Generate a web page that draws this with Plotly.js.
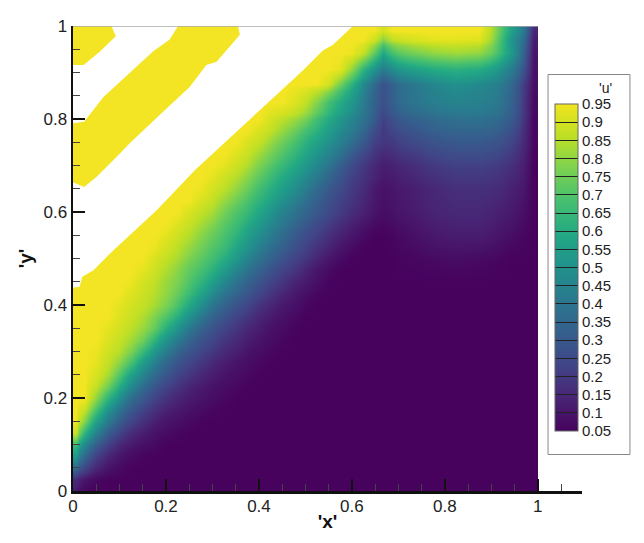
<!DOCTYPE html>
<html><head><meta charset="utf-8">
<script src="https://cdn.plot.ly/plotly-3.0.1.min.js"></script>
<style>html,body{margin:0;padding:0;background:#fff}</style></head>
<body><div id="chart" style="width:644px;height:543px"></div>
<script>
// cell edges of the u grid
const xEdges = [0,.0125,.0375,.0625,.0875,.1125,.1375,.1625,.1875,.2125,.2375,.2625,.2875,.3125,.3375,.3625,.3875,.4125,.4375,.4625,.4875,.5125,.5375,.5625,.5875,.6125,.6375,.6575,.6765,.7,.75,.8,.85,.9,.93,.96,.98,1];
const yEdges = [0,.0125,.0375,.0625,.0875,.1125,.1375,.1625,.1875,.2125,.2375,.2625,.2875,.3125,.3375,.3625,.3875,.4125,.4375,.4625,.4875,.5125,.5375,.5625,.5875,.6125,.6375,.6625,.6875,.7125,.7375,.7625,.7875,.8125,.86,.89,.925,.96,.98,1];
// u per row, bottom row first; one value per x cell
const uRows = [
[.12,.07,.05,.05,.05, .05,.05,.05,.05,.05, .05,.05,.05,.05,.05, .05,.05,.05,.05,.05, .05,.05,.05,.05,.05, .05,.05,.05,.05, .05,.05,.05,.05, .05,.05,.05,.05],
[.155,.10,.065,.05,.05, .05,.05,.05,.05,.05, .05,.05,.05,.05,.05, .05,.05,.05,.05,.05, .05,.05,.05,.05,.05, .05,.05,.05,.05, .05,.05,.05,.05, .05,.05,.05,.05],
[.36,.235,.145,.095,.07, .05,.05,.05,.05,.05, .05,.05,.05,.05,.05, .05,.05,.05,.05,.05, .05,.05,.05,.05,.05, .05,.05,.05,.05, .05,.05,.05,.05, .05,.05,.05,.05],
[.53,.35,.22,.145,.10, .075,.055,.05,.05,.05, .05,.05,.05,.05,.05, .05,.05,.05,.05,.05, .05,.05,.05,.05,.05, .05,.05,.05,.05, .05,.05,.05,.05, .05,.05,.05,.05],
[.66,.47,.32,.22,.15, .11,.087,.07,.05,.05, .05,.05,.05,.05,.05, .05,.05,.05,.05,.05, .05,.05,.05,.05,.05, .05,.05,.05,.05, .05,.05,.05,.05, .05,.05,.05,.05],
[.88,.63,.44,.31,.225, .16,.122,.09,.077,.06, .05,.05,.05,.05,.05, .05,.05,.05,.05,.05, .05,.05,.05,.05,.05, .05,.05,.05,.05, .05,.05,.05,.05, .05,.05,.05,.05],
[.95,.785,.565,.42,.31, .235,.175,.13,.10,.085, .07,.055,.05,.05,.05, .05,.05,.05,.05,.05, .05,.05,.05,.05,.05, .05,.05,.05,.05, .05,.05,.05,.05, .05,.05,.05,.05],
[.95,.88,.69,.51,.39, .30,.23,.175,.135,.11, .09,.075,.06,.05,.05, .05,.05,.05,.05,.05, .05,.05,.05,.05,.05, .05,.05,.05,.05, .05,.05,.05,.05, .05,.05,.05,.05],
[.95,.95,.80,.63,.49, .37,.30,.23,.18,.14, .115,.095,.08,.065,.05, .05,.05,.05,.05,.05, .05,.05,.05,.05,.05, .05,.05,.05,.05, .05,.05,.05,.05, .05,.05,.05,.05],
[.95,.95,.87,.75,.60, .47,.363,.29,.23,.185, .14,.115,.09,.08,.065, .05,.05,.05,.05,.05, .05,.05,.05,.05,.05, .05,.05,.05,.05, .05,.05,.05,.05, .05,.05,.05,.05],
[.95,.95,.91,.83,.70, .56,.45,.355,.29,.23, .19,.15,.12,.095,.08, .065,.05,.05,.05,.05, .05,.05,.05,.05,.05, .05,.05,.05,.05, .05,.05,.05,.05, .05,.05,.05,.05],
[.95,.95,.93,.87,.79, .68,.535,.435,.345,.285, .235,.19,.15,.12,.095, .08,.065,.05,.05,.05, .05,.05,.05,.05,.05, .05,.05,.05,.05, .05,.05,.05,.05, .05,.05,.05,.05],
[.95,.95,.94,.89,.85, .77,.65,.52,.425,.34, .285,.235,.195,.155,.125, .095,.08,.065,.05,.05, .05,.05,.05,.05,.05, .05,.05,.05,.05, .05,.05,.05,.05, .05,.05,.05,.05],
[.95,.95,.95,.915,.875, .825,.75,.63,.505,.42, .34,.28,.235,.19,.155, .12,.095,.08,.06,.05, .05,.05,.05,.05,.05, .05,.05,.05,.05, .05,.05,.05,.05, .05,.05,.05,.05],
[.95,.95,.95,.93,.90, .86,.81,.735,.615,.51, .415,.335,.28,.235,.19, .15,.12,.09,.075,.055, .05,.05,.05,.05,.05, .05,.05,.05,.05, .05,.05,.05,.05, .05,.05,.05,.05],
[.95,.95,.95,.95,.92, .885,.84,.775,.70,.61, .50,.41,.33,.28,.23, .19,.145,.115,.09,.07, .05,.05,.05,.05,.05, .05,.05,.05,.05, .05,.05,.05,.05, .05,.05,.05,.05],
[.95,.95,.95,.95,.93, .90,.87,.83,.77,.69, .59,.49,.40,.34,.28, .235,.185,.145,.11,.09, .065,.05,.05,.05,.05, .05,.05,.05,.05, .05,.05,.05,.05, .05,.05,.05,.05],
[.95,.95,.95,.95,.95, .918,.886,.85,.80,.74, .66,.57,.48,.397,.34, .29,.235,.19,.145,.11, .085,.06,.05,.05,.05, .05,.05,.05,.05, .05,.05,.05,.05, .05,.05,.05,.05],
[.95,.95,.95,.95,.95, .94,.90,.865,.81,.77, .70,.63,.55,.465,.39, .33,.28,.23,.19,.14, .11,.085,.055,.05,.05, .05,.05,.05,.05, .05,.05,.05,.05, .05,.05,.05,.05],
[.95,.95,.95,.95,.95, .95,.93,.89,.84,.79, .73,.68,.62,.54,.46, .39,.33,.28,.23,.19, .14,.10,.075,.05,.05, .05,.05,.05,.05, .055,.06,.065,.06, .055,.05,.05,.05],
[.95,.95,.95,.95,.95, .95,.95,.91,.87,.83, .77,.72,.67,.61,.53, .45,.39,.33,.28,.23, .19,.14,.10,.075,.05, .05,.05,.05,.05, .06,.07,.08,.07, .06,.05,.05,.05],
[.95,.95,.95,.95,.95, .95,.95,.94,.90,.86, .81,.755,.705,.66,.58, .51,.44,.375,.325,.27, .225,.18,.14,.10,.075, .05,.05,.05,.055, .07,.09,.10,.095, .08,.065,.055,.05],
[.95,.95,.95,.95,.95, .95,.95,.95,.93,.89, .85,.79,.74,.69,.63, .55,.49,.425,.365,.31, .26,.22,.175,.135,.10, .075,.05,.05,.06, .08,.11,.12,.12, .10,.08,.06,.05],
[.95,.95,.95,.95,.95, .95,.95,.95,.95,.92, .88,.83,.78,.72,.67, .60,.53,.47,.41,.35, .30,.255,.21,.17,.13, .10,.075,.065,.075, .095,.125,.135,.135, .115,.095,.07,.05],
[.95,.95,.95,.95,.95, .95,.95,.95,.95,.95, .91,.87,.83,.76,.70, .65,.58,.51,.45,.395, .34,.295,.25,.205,.165, .13,.10,.08,.09, .11,.14,.15,.15, .13,.11,.08,.05],
[.95,.95,.95,.95,.95, .95,.95,.95,.95,.95, .95,.91,.87,.81,.75, .69,.63,.57,.50,.44, .38,.32,.27,.225,.185, .145,.105,.085,.095, .115,.145,.16,.16, .145,.12,.09,.05],
[.95,.95,.95,.95,.95, .95,.95,.95,.95,.95, .95,.94,.90,.86,.80, .74,.67,.61,.55,.49, .425,.36,.30,.25,.20, .16,.11,.09,.10, .12,.15,.17,.17, .16,.13,.10,.05],
[.95,.95,.95,.95,.95, .95,.95,.95,.95,.95, .95,.95,.93,.89,.85, .79,.72,.66,.60,.54, .475,.41,.345,.285,.22, .18,.14,.11,.115, .14,.175,.195,.195, .18,.15,.11,.05],
[.95,.95,.95,.95,.95, .95,.95,.95,.95,.95, .95,.95,.95,.93,.89, .84,.77,.71,.65,.59, .525,.46,.40,.315,.25, .195,.15,.12,.13, .16,.20,.22,.22, .20,.17,.12,.05],
[.95,.95,.95,.95,.95, .95,.95,.95,.95,.95, .95,.95,.95,.95,.92, .88,.82,.76,.70,.64, .575,.51,.45,.39,.30, .24,.185,.155,.165, .20,.24,.26,.26, .24,.20,.135,.055],
[.95,.95,.95,.95,.95, .95,.95,.95,.95,.95, .95,.95,.95,.95,.95, .91,.875,.81,.75,.69, .62,.565,.50,.44,.37, .30,.22,.19,.20, .24,.28,.30,.30, .28,.23,.15,.06],
[.95,.95,.95,.95,.95, .95,.95,.95,.95,.95, .95,.95,.95,.95,.95, .95,.91,.87,.81,.75, .68,.62,.55,.48,.42, .35,.26,.20,.235, .28,.32,.34,.34, .32,.265,.165,.06],
[.95,.95,.95,.95,.95, .95,.95,.95,.95,.95, .95,.95,.95,.95,.95, .95,.95,.90,.86,.82, .76,.67,.59,.52,.45, .39,.31,.22,.27, .32,.36,.38,.38, .36,.30,.18,.06],
[.95,.95,.95,.95,.95, .95,.95,.95,.95,.95, .95,.95,.95,.95,.95, .95,.95,.95,.95,.92, .87,.78,.68,.60,.52, .42,.33,.27,.32, .39,.43,.45,.44, .41,.33,.19,.07],
[.95,.95,.95,.95,.95, .95,.95,.95,.95,.95, .95,.95,.95,.95,.95, .95,.95,.95,.95,.95, .95,.95,.90,.76,.62, .47,.36,.27,.33, .40,.46,.50,.47, .43,.35,.20,.08],
[.95,.95,.95,.95,.95, .95,.95,.95,.95,.95, .95,.95,.95,.95,.95, .95,.95,.95,.95,.95, .95,.95,.95,.93,.80, .63,.51,.42,.48, .55,.60,.62,.60, .52,.42,.27,.09],
[.95,.95,.95,.95,.95, .95,.95,.95,.95,.95, .95,.95,.95,.95,.95, .95,.95,.95,.95,.95, .95,.95,.95,.95,.94, .87,.73,.58,.68, .75,.80,.82,.80, .68,.52,.32,.10],
[.95,.95,.95,.95,.95, .95,.95,.95,.95,.95, .95,.95,.95,.95,.95, .95,.95,.95,.95,.95, .95,.95,.95,.95,.95, .95,.89,.78,.86, .90,.93,.93,.92, .72,.50,.36,.12],
[.95,.95,.95,.95,.95, .95,.95,.95,.95,.95, .95,.95,.95,.95,.95, .95,.95,.95,.95,.95, .95,.95,.95,.95,.95, .95,.95,.90,.95, .95,.95,.95,.95, .75,.55,.40,.15]
];
// outlines of the two white (undrawn) diagonal bands
const gap1X = [0,.014,.020,.044,.087,.180,.262,.305,.359,.452,.495,.538,.559,.602,.355,.359,.309,.287,.251,.187,.122,.101,.051,.024,0];
const gap1Y = [.437,.439,.461,.475,.518,.604,.690,.730,.780,.866,.905,.948,.959,1,1,.981,.923,.916,.869,.809,.748,.726,.676,.654,.664];
const gap2X = [.226,.208,.172,.108,.065,.024,0,0,.023,.058,.092,.083];
const gap2Y = [1,.971,.945,.887,.847,.794,.791,.916,.916,.945,.978,1];
const colorStops = [[0,'#47025e'],[.1,'#482475'],[.2,'#414487'],[.3,'#355f8d'],[.4,'#2a788e'],[.5,'#21918c'],[.6,'#22a884'],[.7,'#44bf70'],[.8,'#7ad151'],[.9,'#bddf26'],[.975,'#e2e31f'],[1,'#f4e524']];

uRows.forEach((r,i)=>{if(r.length!==xEdges.length-1)throw new Error('row '+i+' has '+r.length);});
if(uRows.length!==yEdges.length-1)throw new Error('rows '+uRows.length);
const L=73,R=582.5,T=26,B=491;
const px=v=>(v-L)/(R-L), py=v=>(B-v)/(B-T);
const heat={type:'heatmap',x:xEdges,y:yEdges,z:uRows,zsmooth:'best',zmin:.05,zmax:.95,colorscale:colorStops,hoverinfo:'skip',
 colorbar:{lenmode:'pixels',len:327,thicknessmode:'pixels',thickness:23,x:px(555),xanchor:'left',xpad:0,y:py(104),yanchor:'top',ypad:0,
  tick0:.05,dtick:.05,ticks:'inside',ticklen:23,tickwidth:1,tickcolor:'#222',outlinewidth:1,outlinecolor:'#666',
  tickfont:{family:'Liberation Sans',size:15,color:'#222'}}};
const gap=(x,y)=>({type:'scatter',mode:'lines',x,y,fill:'toself',fillcolor:'#fff',line:{width:0,color:'#fff'},hoverinfo:'skip',showlegend:false});
const axis=(title,range,off)=>({range,title:{text:title,font:{family:'Liberation Sans',size:19,color:'#111',weight:'bold'},standoff:off},
  tick0:0,dtick:.2,ticks:'inside',ticklen:12,tickwidth:2,tickcolor:'#111',showline:true,linewidth:2.5,linecolor:'#111',showgrid:false,zeroline:false,
  minor:{dtick:.05,ticks:'inside',ticklen:7,tickwidth:1,tickcolor:'#444',showgrid:false},
  tickfont:{family:'Liberation Sans',size:17,color:'#222'},fixedrange:true});
const xa=axis("'x'",[0,1.095],0); xa.ticklabelstandoff=-2;
const ya=axis("'y'",[0,1],6);
Plotly.newPlot('chart',[heat,gap(gap1X,gap1Y),gap(gap2X,gap2Y)],{
  width:644,height:543,margin:{l:L,r:644-R,t:T,b:543-B,autoexpand:false},paper_bgcolor:'#fff',plot_bgcolor:'#fff',showlegend:false,
  xaxis:xa,yaxis:ya,
  annotations:[{xref:'paper',yref:'paper',x:px(606),y:py(88),text:"'u'",showarrow:false,xanchor:'center',yanchor:'middle',font:{family:'Liberation Sans',size:14,color:'#222'}}],
  shapes:[
   {type:'rect',xref:'paper',yref:'paper',x0:px(548.5),x1:px(630.5),y0:py(454.5),y1:py(74.5),line:{color:'#888',width:1}},
   {type:'line',xref:'x',yref:'y',x0:0,x1:1,y0:1,y1:1,line:{color:'#aaa',width:1.5}}
  ]},{displayModeBar:false,staticPlot:true});
</script></body></html>
